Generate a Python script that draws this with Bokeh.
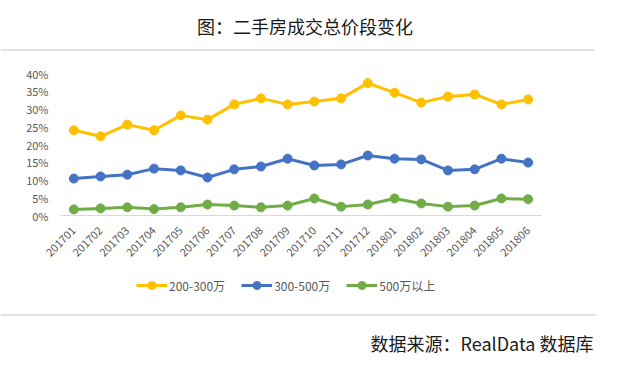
import math
from bokeh.plotting import figure
from bokeh.models import (Range1d, NumeralTickFormatter, Legend, LegendItem, FixedTicker)
from bokeh.core.properties import value
from bokeh.embed import file_html
from bokeh.resources import INLINE

# ---------------- data ----------------
months = ["201701", "201702", "201703", "201704", "201705", "201706", "201707", "201708", "201709",
          "201710", "201711", "201712", "201801", "201802", "201803", "201804", "201805", "201806"]
series_names = ["200-300万", "300-500万", "500万以上"]
s_200_300 = [0.240, 0.223, 0.256, 0.240, 0.282, 0.270, 0.313, 0.330, 0.313,
             0.321, 0.330, 0.373, 0.346, 0.318, 0.335, 0.341, 0.313, 0.327]
s_300_500 = [0.104, 0.110, 0.115, 0.132, 0.127, 0.107, 0.130, 0.138, 0.160,
             0.141, 0.144, 0.169, 0.160, 0.158, 0.127, 0.130, 0.160, 0.149]
s_500_up = [0.017, 0.020, 0.023, 0.018, 0.023, 0.031, 0.028, 0.023, 0.028,
            0.048, 0.025, 0.031, 0.048, 0.034, 0.025, 0.028, 0.048, 0.046]
y_ticks = [0.0, 0.05, 0.10, 0.15, 0.20, 0.25, 0.30, 0.35, 0.40]
title_text = "图：二手房成交总价段变化"
source_text = "数据来源：RealData 数据库"

colors = ["#FFC000", "#4472C4", "#70AD47"]
FONT = "Noto Sans CJK SC"

# ---------------- layout constants (canvas pixels) ----------------
W, H = 611, 359
PLOT_L, PLOT_R = 60, 541          # plot area left / right
PLOT_T, PLOT_B = 73, 215          # 40% line / 0% line
Y_MAX = 0.40
n = len(months)
band = (PLOT_R - PLOT_L) / n
x_lo = -0.5 - PLOT_L / band
x_hi = n - 0.5 + (W - PLOT_R) / band
ppu = (PLOT_B - PLOT_T) / Y_MAX
y_hi = Y_MAX + PLOT_T / ppu
y_lo = -(H - PLOT_B) / ppu

xs = list(range(n))

p = figure(width=W, height=H, x_range=Range1d(x_lo, x_hi), y_range=Range1d(y_lo, y_hi),
           output_backend="svg", toolbar_location=None, min_border=0)
p.outline_line_color = None
p.grid.visible = False
p.extra_x_ranges = {"px": Range1d(0, W)}
p.extra_y_ranges = {"px": Range1d(H, 0)}

items = []
for name, vals, c in zip(series_names, [s_200_300, s_300_500, s_500_up], colors):
    r1 = p.line(xs, vals, line_color=c, line_width=3)
    r2 = p.scatter(xs, vals, size=9, fill_color=c, line_color=c)
    items.append(LegendItem(label=name, renderers=[r1, r2]))

# y axis
p.yaxis.fixed_location = -0.5
p.yaxis.bounds = (0, Y_MAX)
p.yaxis.ticker = FixedTicker(ticks=y_ticks)
p.yaxis.formatter = NumeralTickFormatter(format="0%")
p.yaxis.axis_line_color = None
p.yaxis.major_tick_line_color = None
p.yaxis.minor_tick_line_color = None
p.yaxis.major_tick_out = 0
p.yaxis.major_label_standoff = 12
p.yaxis.major_label_text_font = FONT
p.yaxis.major_label_text_font_size = "11px"
p.yaxis.major_label_text_color = "#595959"

# x axis
p.xaxis.fixed_location = 0
p.xaxis.bounds = (-0.5, n - 0.5)
p.xaxis.ticker = FixedTicker(ticks=xs)
p.xaxis.major_label_overrides = {i: m for i, m in enumerate(months)}
p.xaxis.axis_line_color = "#D9D9D9"
p.xaxis.major_tick_line_color = None
p.xaxis.minor_tick_line_color = None
p.xaxis.major_tick_out = 0
p.xaxis.major_label_standoff = 13
p.xaxis.major_label_orientation = math.pi / 4
p.xaxis.major_label_text_font = FONT
p.xaxis.major_label_text_font_size = "11px"
p.xaxis.major_label_text_color = "#595959"

legend = Legend(items=items, orientation="horizontal", location=(136, 64),
                padding=0, margin=0, spacing=16, label_standoff=2,
                glyph_width=31, glyph_height=20,
                border_line_color=None, background_fill_alpha=0,
                label_text_font=FONT, label_text_font_size="12px",
                label_text_color="#595959")
p.add_layout(legend, "center")

# title, rules, source (canvas pixel coordinates)
p.text(x=[304.5], y=[25.5], text=[title_text], text_align="center", text_baseline="middle",
       text_font=value(FONT), text_font_size="18px", text_color="#1a1a1a",
       x_range_name="px", y_range_name="px")
p.segment(x0=[0, 0], y0=[49.5, 314.5], x1=[594, 595], y1=[49.5, 314.5],
          line_color="#C4C4C4", line_width=1.2, x_range_name="px", y_range_name="px")
p.text(x=[593], y=[342], text=[source_text], text_align="right", text_baseline="middle",
       text_font=value(FONT), text_font_size="18px", text_color="#1a1a1a",
       x_range_name="px", y_range_name="px")

open("out.html", "w").write(file_html(p, INLINE))
